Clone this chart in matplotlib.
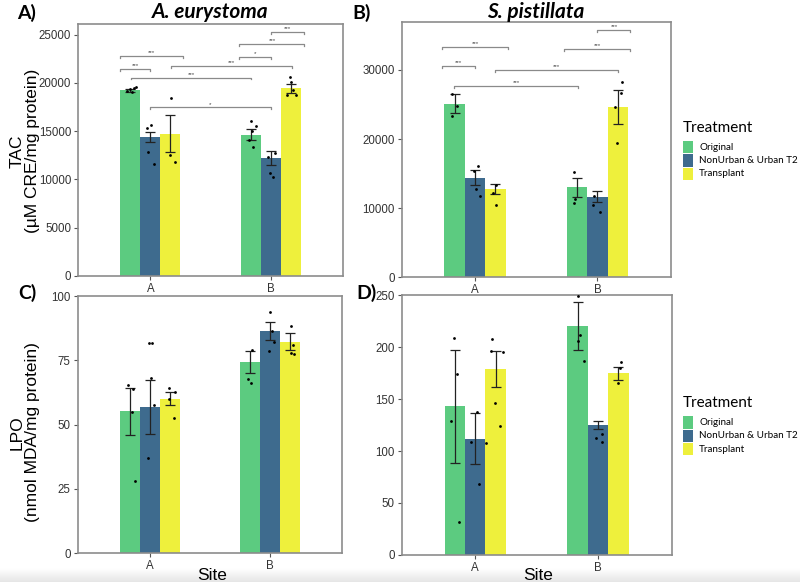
import matplotlib.pyplot as plt
from matplotlib.patches import Rectangle
import numpy as np

plt.rcParams['font.family'] = ['Liberation Sans', 'DejaVu Sans']

# 分組與顏色
sites = ['A', 'B']
treatments = ['Original', 'NonUrban & Urban T2', 'Transplant']
colors = ['#5ccb80', '#3e6b8e', '#eef03c']

# ---- TAC, A. eurystoma ([site][treatment]) ----
tac_ae_mean = [[19250, 14400, 14750], [14650, 12200, 19450]]
tac_ae_se = [[150, 520, 1950], [530, 700, 480]]
tac_ae_pts = [
    [[19190, 19330, 19080, 19430, 19530], [15290, 15630, 12860, 11620], [18460, 12490, 11790]],
    [[16050, 15530, 15010, 14080, 13380], [12280, 12760, 10620, 10210], [20580, 20090, 19260, 18740, 18740]],
]
tac_ae_jit = [
    [[-0.028, 0, 0.014, 0.028, 0.044], [-0.028, 0.006, -0.019, 0.028], [0.008, -0.006, 0.039]],
    [[0, 0.042, 0.014, -0.014, 0.019], [-0.019, 0.033, -0.006, 0.022], [-0.011, 0.003, 0.014, -0.028, 0.044]],
]
tac_ae_sig = [(0.75, 1.27, 22800, '***'), (0.75, 1.0, 21450, '***'), (0.84, 1.84, 20550, '***'),
              (1.17, 2.18, 21750, '***'), (1.0, 2.0, 17450, '*'), (1.74, 2.0, 22700, '*'),
              (1.74, 2.28, 24050, '***'), (2.0, 2.28, 25300, '***')]

# ---- TAC, S. pistillata ----
tac_sp_mean = [[25150, 14400, 12780], [13050, 11680, 24600]]
tac_sp_se = [[1375, 1110, 770], [1375, 750, 2460]]
tac_sp_pts = [
    [[26530, 24830, 23340], [15430, 16110, 12740, 11810], [13310, 12160, 10460]],
    [[15190, 11290, 10710], [11770, 10460, 9410], [28310, 26630, 24650, 19480]],
]
tac_sp_jit = [
    [[-0.022, 0.016, -0.025], [-0.005, 0.025, 0.008, 0.038], [0.008, -0.022, 0.008]],
    [[-0.027, -0.016, -0.027], [-0.027, -0.038, 0.022], [0.033, 0.027, -0.027, -0.005]],
]
tac_sp_sig = [(0.73, 1.27, 33300, '***'), (0.73, 1.0, 30600, '***'), (1.16, 2.17, 30000, '***'),
              (0.83, 1.84, 27650, '***'), (1.73, 2.27, 33100, '***'), (2.0, 2.27, 35750, '***')]

# ---- LPO, A. eurystoma ----
lpo_ae_mean = [[55.2, 56.7, 60.0], [74.2, 86.5, 82.3]]
lpo_ae_se = [[9.1, 10.5, 2.5], [4.3, 3.5, 3.2]]
lpo_ae_pts = [
    [[65.4, 63.9, 54.8, 28.2], [81.6, 81.6, 68.0, 57.6, 37.2], [64.1, 62.7, 60.0, 52.5]],
    [[79.1, 67.6, 66.2], [93.9, 86.5, 82.0, 78.6], [88.5, 81.1, 77.7, 77.6]],
]
lpo_ae_jit = [
    [[-0.017, 0.028, 0.022, 0.042], [-0.003, 0.019, 0.008, 0.036, -0.017], [-0.003, 0.047, -0.003, 0.033]],
    [[0.019, -0.014, 0.011], [0.003, 0.022, 0.036, -0.003], [0.014, 0.031, 0.008, 0.039]],
]

# ---- LPO, S. pistillata ----
lpo_sp_mean = [[142.8, 111.9, 179.2], [220.2, 125.3, 174.7]]
lpo_sp_se = [[54.6, 24.4, 17.2], [23.4, 3.9, 6.1]]
lpo_sp_pts = [
    [[208.7, 173.7, 129.2, 31.7], [108.7, 137.2, 68.3, 107.7], [207.4, 196.5, 194.9, 145.8, 124.0]],
    [[249.4, 211.9, 205.4, 186.5], [116.7, 112.2, 109.0], [185.6, 179.5, 165.7]],
]
lpo_sp_jit = [
    [[-0.008, 0.022, -0.033, 0.033], [-0.038, 0.016, 0.027, 0.087], [-0.033, -0.035, 0.06, -0.008, 0.038]],
    [[0.003, 0.019, 0.008, 0.052], [0.033, -0.014, 0.033], [0.024, 0.011, -0.003]],
]

BAR_W = 1 / 6
GRID_C = '#8c8c8c'
W, H = 800, 582


def draw_panel(ax, mean, se, pts, jit, ymax, yticks, sig=None, tip=0):
    for i in range(len(sites)):
        for j in range(len(treatments)):
            x = i + 1 + (j - 1) * BAR_W
            ax.bar(x, mean[i][j], width=BAR_W, color=colors[j], edgecolor='none', zorder=1)
            ax.errorbar(x, mean[i][j], yerr=se[i][j], fmt='none', ecolor='#222222',
                        elinewidth=0.9, capsize=3.5, capthick=0.9, zorder=3)
            ax.plot([x + d for d in jit[i][j]], pts[i][j], 'o', color='black',
                    markersize=2.0, markeredgewidth=0, zorder=4)
    if sig:
        for x1, x2, y, lab in sig:
            ax.plot([x1, x1, x2, x2], [y - tip, y, y, y - tip], color='#8a8a8a', lw=0.9, zorder=2,
                    clip_on=False)
            ax.text((x1 + x2) / 2, y + tip * 0.4, lab, ha='center', va='bottom',
                    fontsize=4.5, color='#444444')
    ax.set_xlim(0.4, 2.6)
    ax.set_ylim(0, ymax)
    ax.set_xticks([1, 2])
    ax.set_xticklabels(sites)
    ax.set_yticks(yticks)
    ax.tick_params(length=3, width=0.8, color='#555555', labelsize=8.3, labelcolor='#333333', pad=2)
    for sp in ax.spines.values():
        sp.set_color(GRID_C)
        sp.set_linewidth(1.2)


fig = plt.figure(figsize=(8, 5.82), dpi=100)

# 底部淡灰漸層
bg = fig.add_axes([0, 0, 1, 14 / H], zorder=-5)
bg.imshow(np.linspace(1.0, 0.9, 20).reshape(-1, 1), cmap='gray', vmin=0, vmax=1,
          aspect='auto', extent=[0, 1, 1, 0])
bg.axis('off')

ax_a = fig.add_axes([0.0975, 0.5258, 0.3313, 0.433])
ax_b = fig.add_axes([0.502, 0.5235, 0.3366, 0.4382])
ax_c = fig.add_axes([0.0971, 0.0493, 0.33, 0.4421])
ax_d = fig.add_axes([0.502, 0.0464, 0.3375, 0.4467])

draw_panel(ax_a, tac_ae_mean, tac_ae_se, tac_ae_pts, tac_ae_jit, 26100,
           [0, 5000, 10000, 15000, 20000, 25000], tac_ae_sig, tip=200)
draw_panel(ax_b, tac_sp_mean, tac_sp_se, tac_sp_pts, tac_sp_jit, 36900,
           [0, 10000, 20000, 30000], tac_sp_sig, tip=290)
draw_panel(ax_c, lpo_ae_mean, lpo_ae_se, lpo_ae_pts, lpo_ae_jit, 100, [0, 25, 50, 75, 100])
draw_panel(ax_d, lpo_sp_mean, lpo_sp_se, lpo_sp_pts, lpo_sp_jit, 250, [0, 50, 100, 150, 200, 250])

# 標題與面板標籤
head = dict(family=['Lato', 'DejaVu Sans'], fontweight='bold', ha='center', va='center')
fig.text(210.5 / W, 1 - 12 / H, 'A. eurystoma', fontsize=15, fontstyle='italic', **head)
fig.text(536 / W, 1 - 12 / H, 'S. pistillata', fontsize=15, fontstyle='italic', **head)
for lab, px, py in [('A)', 27, 13), ('B)', 362, 13), ('C)', 27, 293), ('D)', 366, 293)]:
    fig.text(px / W, 1 - py / H, lab, fontsize=14, **head)

# 軸標籤
fig.text(25 / W, 0.7405, 'TAC\n(µM CRE/mg protein)', rotation=90, ha='center', va='center',
         fontsize=12.5, multialignment='center', linespacing=1.05)
fig.text(25 / W, 0.257, 'LPO\n(nmol MDA/mg protein)', rotation=90, ha='center', va='center',
         fontsize=12.5, multialignment='center', linespacing=1.05)
fig.text(211.7 / W, 1 - 575 / H, 'Site', ha='center', va='center', fontsize=12.5)
fig.text(538 / W, 1 - 575 / H, 'Site', ha='center', va='center', fontsize=12.5)

# 圖例（手動繪製）
leg_font = ['Lato', 'DejaVu Sans']
for y_title, y_first in [(128, 147), (403, 422.3)]:
    fig.text(683 / W, 1 - y_title / H, 'Treatment', ha='left', va='center',
             fontsize=11, family=leg_font)
    for k, (c, t) in enumerate(zip(colors, treatments)):
        yc = y_first + k * 13.4
        fig.patches.append(Rectangle((683 / W, 1 - (yc + 6.2) / H), 10 / W, 12.4 / H,
                                     transform=fig.transFigure, facecolor=c,
                                     edgecolor='none', figure=fig))
        fig.text(699 / W, 1 - yc / H, t, ha='left', va='center', fontsize=7.1, family=leg_font)

plt.savefig('out.png', dpi=100)
plt.close()
